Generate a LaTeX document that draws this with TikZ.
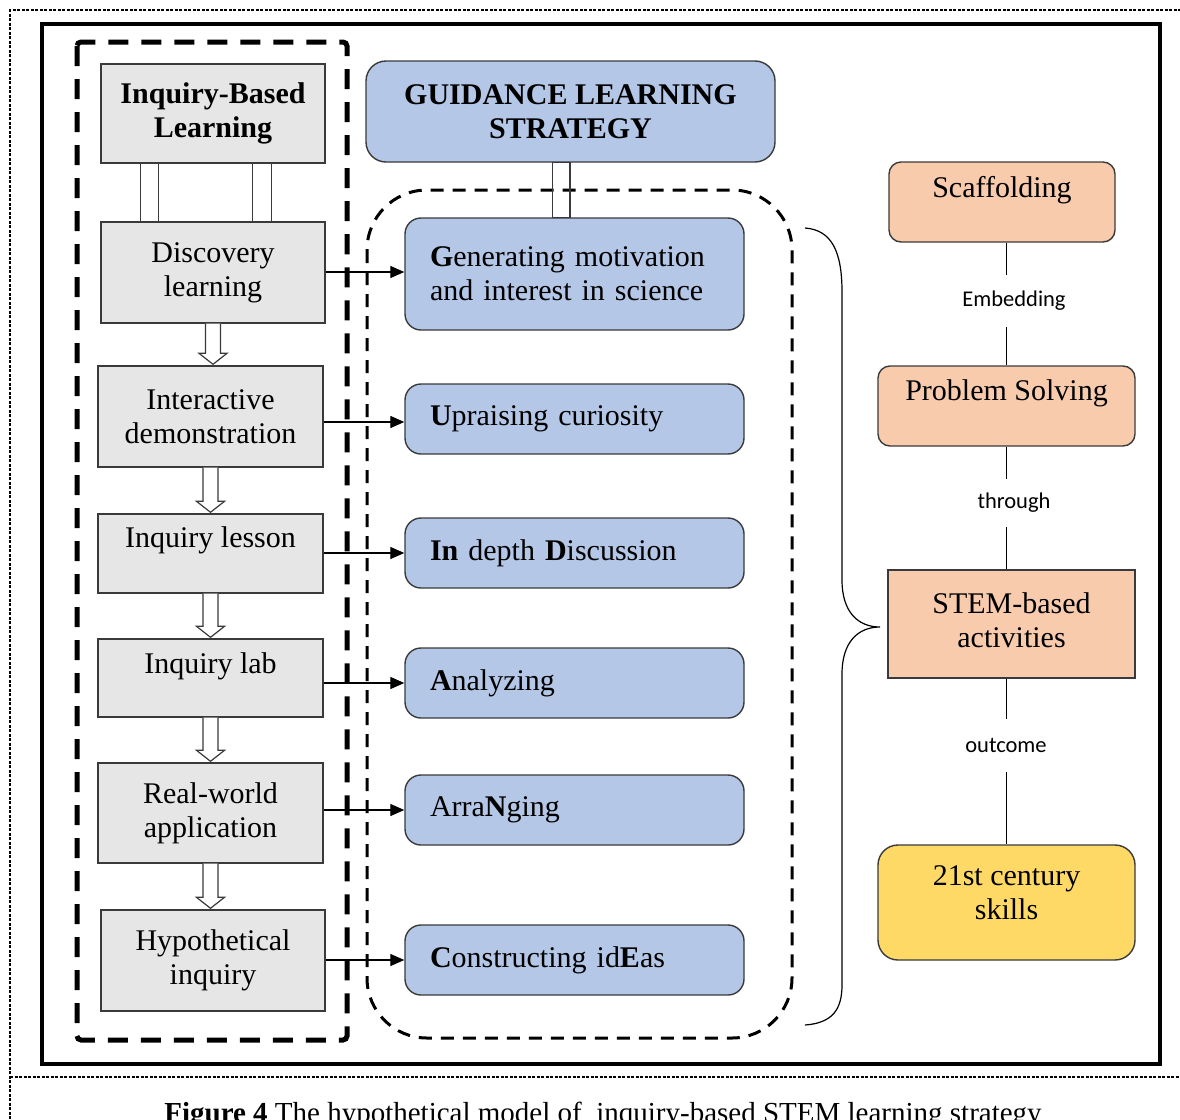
\documentclass[tikz,border=0pt]{standalone}
\usepackage{fontspec}
\setmainfont{Liberation Serif}
\newfontfamily\calibrifont{Carlito}
\usetikzlibrary{calc,arrows.meta}
\definecolor{gfill}{HTML}{E6E6E6}
\definecolor{bfill}{HTML}{B4C7E7}
\definecolor{ofill}{HTML}{F8CBAD}
\definecolor{yfill}{HTML}{FFD966}
\definecolor{edge}{HTML}{3A3A3A}
\newcommand\hollowdown[2]{%
  \draw[harrow] let \p1=(#1.south), \p2=(#2.north) in
    (\x1-7.5pt,\y1) -- (\x1-7.5pt,\y2+12pt) -- (\x1-14pt,\y2+12pt) -- (\x1,\y2+1pt)
    -- (\x1+14pt,\y2+12pt) -- (\x1+7.5pt,\y2+12pt) -- (\x1+7.5pt,\y1);}
\begin{document}
\begin{tikzpicture}[x=1pt,y=-1pt,
  font=\fontsize{30}{34}\selectfont,
  graybox/.style={draw=edge, line width=1.4pt, fill=gfill, align=center, inner sep=0pt},
  bluebox/.style={draw=edge, line width=1.4pt, fill=bfill, rounded corners=16pt, inner sep=0pt},
  orbox/.style={draw=edge, line width=1.4pt, fill=ofill, rounded corners=12pt, inner sep=0pt, align=center},
  txt/.style={inner sep=0pt, align=center},
  lbl/.style={font=\calibrifont\fontsize{22.5}{26}\selectfont, inner sep=0pt},
  link/.style={line width=1.3pt, -{Triangle[length=14pt,width=12pt]}},
  harrow/.style={draw=edge, line width=1.2pt, fill=white},
  bar/.style={draw=edge, line width=1.3pt},
  rline/.style={line width=1.3pt}
  ]
\useasboundingbox (0,0) rectangle (1180,1119);
% outer thin dashed frame
\draw[line width=1.2pt, dash pattern=on 3pt off 1.5pt] (10,1119) -- (10,10) -- (1180,10);
\draw[line width=1.2pt, dash pattern=on 3pt off 1.5pt] (10,1077) -- (1180,1077);
% thick frame
\draw[line width=4.5pt] (42,24) rectangle (1160,1064);
% left dashed group
\draw[line width=5pt, dash pattern=on 20pt off 13pt, rounded corners=4pt] (77,42) rectangle (347,1040);
% middle dashed rounded group
\draw[line width=3pt, dash pattern=on 13pt off 9pt, rounded corners=60pt] (367,190) rectangle (792,1038);

% gray boxes
\node[graybox, minimum width=224, minimum height=99] (ibl) at (213,113.5) {\textbf{Inquiry-Based}\\\textbf{Learning}};
\node[graybox, minimum width=224, minimum height=101] (disc) at (213,272.5) {Discovery\\learning};
\node[graybox, minimum width=225, minimum height=101] (inter) at (210.5,416.5) {Interactive\\demonstration};
\node[graybox, minimum width=225, minimum height=79] (lesson) at (210.5,553.5) {};
\node[txt] (lessonT) at (210.5,540) {Inquiry lesson};
\node[graybox, minimum width=225, minimum height=78] (lab) at (210.5,678) {};
\node[txt] (labT) at (210.5,666) {Inquiry lab};
\node[graybox, minimum width=225, minimum height=100] (real) at (210.5,813) {Real-world\\application};
\node[graybox, minimum width=224, minimum height=101] (hyp) at (213,960.5) {Hypothetical\\inquiry};

% connectors in the left column
\draw[bar] ($(ibl.south west)+(40,0)$) rectangle ($(disc.north west)+(58,0)$);
\draw[bar] ($(ibl.south west)+(152,0)$) rectangle ($(disc.north west)+(171,0)$);
\hollowdown{disc}{inter}
\hollowdown{inter}{lesson}
\hollowdown{lesson}{lab}
\hollowdown{lab}{real}
\hollowdown{real}{hyp}

% blue boxes
\node[bluebox, rounded corners=20pt, minimum width=409, minimum height=101, align=center] (gls) at (570.5,111.5) {\textbf{GUIDANCE LEARNING}\\\textbf{STRATEGY}};
\node[bluebox, minimum width=339, minimum height=112, text width=289pt, inner xsep=25pt, align=left] (gen) at (574.5,274) {\textbf{G}enerating motivation\\and interest in science};
\node[bluebox, minimum width=339, minimum height=70, text width=289pt, inner xsep=25pt, align=left] (upr) at (574.5,419) {\textbf{U}praising curiosity};
\node[bluebox, minimum width=339, minimum height=70, text width=289pt, inner xsep=25pt, align=left] (ind) at (574.5,553) {\textbf{In} depth \textbf{D}iscussion};
\node[bluebox, minimum width=339, minimum height=70, text width=289pt, inner xsep=25pt, align=left] (ana) at (574.5,683) {\textbf{A}nalyzing};
\node[bluebox, minimum width=339, minimum height=70, text width=289pt, inner xsep=25pt, align=left] (arr) at (574.5,810) {Arra\textbf{N}ging};
\node[bluebox, minimum width=339, minimum height=70, text width=289pt, inner xsep=25pt, align=left] (con) at (574.5,960) {\textbf{C}onstructing id\textbf{E}as};

\draw[bar] ($(gls.south)+(-18,0)$) rectangle ($(gen.north)+(-4.5,0)$);

% arrows from gray to blue
\draw[link] (disc.east |- 0,272) -- (gen.west |- 0,272);
\draw[link] (inter.east |- 0,422) -- (upr.west |- 0,422);
\draw[link] (lesson.east |- ind.west) -- (ind.west);
\draw[link] (lab.east |- ana.west) -- (ana.west);
\draw[link] (real.east |- arr.west) -- (arr.west);
\draw[link] (hyp.east |- con.west) -- (con.west);

% brace
\coordinate (brT) at (805,228);
\coordinate (brM) at (880,627);
\coordinate (brB) at (805,1025);
\draw[line width=1.2pt] (brT) .. controls (832,230) and (842,252) .. (842,292) -- (842,580)
  .. controls (842,612) and (858,627) .. (brM)
  .. controls (858,627) and (842,642) .. (842,674) -- (842,985)
  .. controls (842,1010) and (832,1023) .. (brB);

% right column
\node[orbox, minimum width=226, minimum height=80] (sc) at (1002,202) {};
\node[txt] (scT) at (1002,190) {Scaffolding};
\node[orbox, minimum width=257, minimum height=80] (ps) at (1006.5,406) {};
\node[txt] (psT) at (1006.5,393) {Problem Solving};
\node[orbox, rounded corners=0pt, minimum width=247, minimum height=108] (stem) at (1011.5,624) {};
\node[txt] (stemT) at (1011.5,620) {STEM-based\\activities};
\node[orbox, fill=yfill, rounded corners=20pt, minimum width=257, minimum height=115] (sk) at (1006.5,902.5) {};
\node[txt] (skT) at (1006.5,893) {21st century\\skills};

\node[lbl, minimum height=52] (emb) at (1014,301) {Embedding};
\node[lbl, minimum height=48] (thr) at (1014,503) {through};
\node[lbl, minimum height=53] (outc) at (1006,745.5) {outcome};

\draw[rline] (sc.south -| ps.center) -- (emb.north -| ps.center);
\draw[rline] (emb.south -| ps.center) -- (ps.north);
\draw[rline] (ps.south) -- (thr.north -| ps.center);
\draw[rline] (thr.south -| ps.center) -- (stem.north -| ps.center);
\draw[rline] (stem.south -| ps.center) -- (outc.north -| ps.center);
\draw[rline] (outc.south -| ps.center) -- (sk.north);

% caption
\node[anchor=base, inner sep=0pt, font=\fontsize{29}{34}\selectfont] (cap) at (603,1122)
  {\textbf{Figure 4} The hypothetical model of\ \ inquiry-based STEM learning strategy};
\end{tikzpicture}
\end{document}
